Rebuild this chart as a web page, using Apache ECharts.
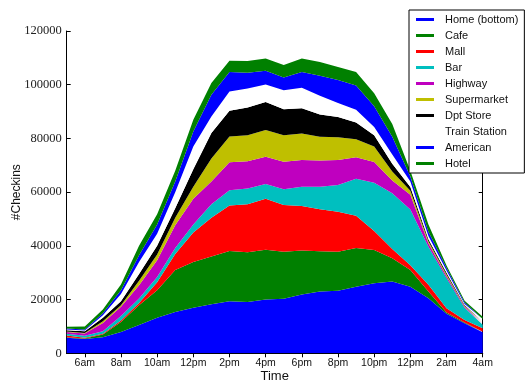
<!DOCTYPE html>
<html><head><meta charset="utf-8">
<script src="https://cdn.jsdelivr.net/npm/echarts@6/dist/echarts.min.js"></script>
<style>html,body{margin:0;padding:0;background:#fff}#c{width:527px;height:381px}</style>
</head><body><div id="c"></div>
<script>
const hours = ['5am','6am','7am','8am','9am','10am','11am','12pm','1pm','2pm','3pm','4pm','5pm','6pm','7pm','8pm','9pm','10pm','11pm','12pm','1am','2am','3am','4am'];
const yTicks = [0, 20000, 40000, 60000, 80000, 100000, 120000];

const home        = [5800,5300,6000,7950,10500,13200,15400,17000,18300,19400,19100,20000,20300,21900,23000,23300,24800,26100,26700,24800,20500,14700,11200,7800];
const cafe        = [200,200,1000,3750,7400,10300,15600,17000,17700,18700,18500,18600,17500,16400,15000,14500,14400,12400,8700,6200,2500,500,300,200];
const mall        = [600,300,250,500,800,3000,6000,11000,14500,16900,17900,18900,17400,16500,15600,14900,12000,7000,3400,1800,2500,1600,900,1300];
const bar         = [700,700,950,1700,1700,1900,2200,3000,5000,5700,5900,5500,5900,7200,8400,10000,13800,18000,20800,20700,14200,11200,4600,1300];
const highway     = [600,900,3100,3400,4900,6200,8500,9500,8500,10400,10100,10200,10200,10000,9800,9300,8000,7700,4700,5500,1300,800,400,400];
const supermarket = [200,200,600,600,1700,2200,2800,4500,8500,9600,9700,9900,9900,9800,8800,8400,6700,5800,3400,1500,700,500,300,300];
const dptStore    = [500,600,1300,1500,2500,3200,3500,6500,9500,9600,10300,10500,9700,9400,8300,7600,6200,4200,2900,1400,800,700,300,400];
const trainStation= [300,300,1000,2700,4500,4500,6000,8500,6200,7200,7100,6500,7000,7700,7000,5200,4800,3100,3400,2100,1200,800,400,400];
const american    = [300,400,700,1400,2500,3500,4000,5600,8100,7200,5900,5100,4800,5800,7400,8600,9000,7700,6600,1800,1600,1000,500,700];
const hotel       = [700,1100,1400,2100,3500,3800,4000,4400,4300,4200,4300,4600,4600,5100,5200,4800,5000,4800,4800,2200,2700,900,700,800];

const names  = ['Home (bottom)','Cafe','Mall','Bar','Highway','Supermarket','Dpt Store','Train Station','American','Hotel'];
const values = [home,cafe,mall,bar,highway,supermarket,dptStore,trainStation,american,hotel];
const colors = ['#0000ff','#008000','#ff0000','#00bfbf','#bf00bf','#bfbf00','#000000','#ffffff','#0000ff','#008000'];

const series = names.map((n, i) => ({
  name: n, type: 'line', stack: 'total', data: values[i],
  symbol: 'none', smooth: false,
  lineStyle: { width: 0, color: colors[i] },
  itemStyle: { color: colors[i] },
  areaStyle: { color: colors[i], opacity: 1 },
  emphasis: { disabled: true },
  xAxisIndex: 0, yAxisIndex: 0
}));

const tickEvery2 = (idx) => idx % 2 === 1;
const chart = echarts.init(document.getElementById('c'), null, { renderer: 'canvas' });
chart.setOption({
  animation: false,
  backgroundColor: '#fff',
  grid: { left: 66.7, right: 44.3, top: 31, bottom: 27.7, containLabel: false, outerBoundsMode: 'none' },
  legend: {
    orient: 'vertical', left: 409, top: 10,
    icon: 'rect', itemWidth: 18, itemHeight: 3, itemGap: 3,
    padding: [3, 6, 3, 7],
    backgroundColor: '#fff', borderColor: '#000', borderWidth: 1,
    selectedMode: false,
    textStyle: { fontFamily: 'Liberation Sans', fontSize: 11, color: '#111', lineHeight: 13, padding: [0, 0, 0, 6] },
    data: names
  },
  xAxis: [{
    type: 'category', data: hours, boundaryGap: false, position: 'bottom',
    name: 'Time', nameLocation: 'middle', nameGap: 17, nameMoveOverlap: false,
    nameTextStyle: { fontFamily: 'Liberation Sans', fontSize: 13, color: '#111' },
    axisLine: { lineStyle: { color: '#000', width: 1 } },
    axisTick: { inside: true, length: 4, interval: tickEvery2, lineStyle: { color: '#000' } },
    axisLabel: { interval: tickEvery2, fontFamily: 'Liberation Sans', fontSize: 10.5, color: '#111', margin: 4 },
    splitLine: { show: false }
  }, {
    type: 'category', data: hours, boundaryGap: false, position: 'top',
    axisLine: { lineStyle: { color: '#000', width: 1 } },
    axisTick: { inside: true, length: 4, interval: tickEvery2, lineStyle: { color: '#000' } },
    axisLabel: { show: false }, splitLine: { show: false }
  }],
  yAxis: [{
    type: 'value', min: yTicks[0], max: yTicks[yTicks.length - 1], interval: 20000, position: 'left',
    name: '#Checkins', nameLocation: 'middle', nameGap: 44, nameMoveOverlap: false,
    nameTextStyle: { fontFamily: 'Liberation Sans', fontSize: 12, color: '#111' },
    axisLine: { show: true, lineStyle: { color: '#000', width: 1 } },
    axisTick: { show: true, inside: true, length: 4, lineStyle: { color: '#000' } },
    axisLabel: { fontFamily: "'Liberation Serif', 'DejaVu Serif', serif", fontSize: 12.5, color: '#222', margin: 5, formatter: (v) => String(v) },
    splitLine: { show: false }
  }, {
    type: 'value', min: yTicks[0], max: yTicks[yTicks.length - 1], interval: 20000, position: 'right',
    axisLine: { show: true, lineStyle: { color: '#000', width: 1 } },
    axisTick: { show: true, inside: true, length: 4, lineStyle: { color: '#000' } },
    axisLabel: { show: false }, splitLine: { show: false }
  }],
  series: series
});
</script>
</body></html>
